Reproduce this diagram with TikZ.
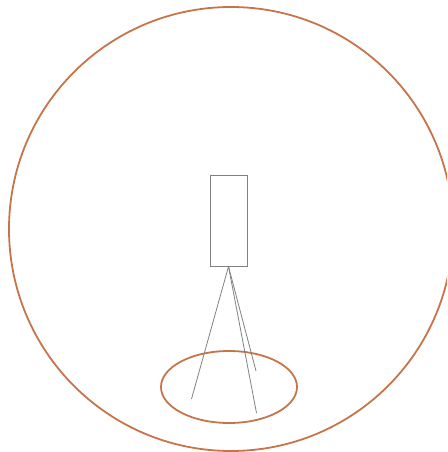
\documentclass[tikz,border=0pt]{standalone}
\usepackage{tikz}
\usetikzlibrary{shapes.geometric}
\usepackage{xcolor}
\definecolor{rim}{HTML}{C8744A}
\definecolor{wire}{HTML}{808080}

\begin{document}
\begin{tikzpicture}[x=1pt, y=-1pt,
  rimline/.style={draw=rim, line width=1.8pt},
  wireline/.style={draw=wire, line width=0.8pt}]
  \useasboundingbox (0,0) rectangle (447,452);
  \begin{scope}
    \clip (0,0) rectangle (447,452);
    \node[circle, rimline, minimum size=444pt, inner sep=0pt] (outer) at (231,229) {};
  \end{scope}
  \node[ellipse, rimline, minimum width=136pt, minimum height=72pt, inner sep=0pt] (spot) at (229,387) {};
  \node[draw=wire, line width=1pt, minimum width=37pt, minimum height=91pt, inner sep=0pt] (box) at (228.5,220.5) {};
  \coordinate (tipA) at (191.5,399);
  \coordinate (tipB) at (256.5,413);
  \coordinate (tipC) at (256,371);
  \draw[wireline] (box.south) -- (tipA);
  \draw[wireline] (box.south) -- (tipB);
  \draw[wireline] (box.south) -- (tipC);
\end{tikzpicture}
\end{document}
